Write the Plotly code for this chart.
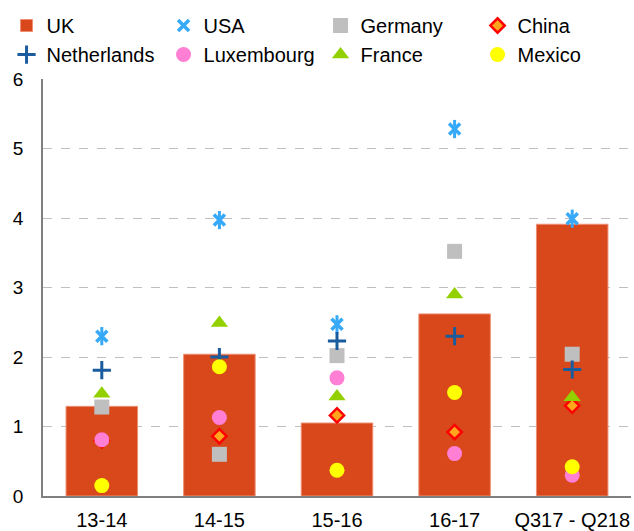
import plotly.graph_objects as go

categories = ["13-14", "14-15", "15-16", "16-17", "Q317 - Q218"]
uk = [1.29, 2.04, 1.05, 2.62, 3.91]
usa = [2.30, 3.97, 2.47, 5.28, 3.99]
germany = [1.28, 0.60, 2.02, 3.52, 2.04]
china = [0.80, 0.86, 1.16, 0.92, 1.30]
netherlands = [1.81, 2.00, 2.23, 2.30, 1.82]
luxembourg = [0.81, 1.13, 1.70, 0.61, 0.30]
france = [1.47, 2.49, 1.43, 2.90, 1.42]
mexico = [0.15, 1.86, 0.37, 1.49, 0.42]
y_ticks = [0, 1, 2, 3, 4, 5, 6]

FONT = "Liberation Sans, Arial, sans-serif"

fig = go.Figure()
fig.add_trace(go.Bar(
    x=categories, y=uk, name="UK",
    marker=dict(color="#D8481B", line=dict(color="#EE8F73", width=1)),
))

def add_pts(name, vals, symbol, color, size, line_color=None, line_width=0,
            showlegend=True, group=None):
    fig.add_trace(go.Scatter(
        x=categories, y=vals, name=name, mode="markers",
        showlegend=showlegend, legendgroup=group or name,
        marker=dict(symbol=symbol, color=color, size=size,
                    line=dict(color=line_color if line_color else color, width=line_width)),
    ))

add_pts("USA", usa, "x-thin-open", "#36A9F8", 11, "#36A9F8", 3.5)
add_pts("USA", usa, "line-ns-open", "#36A9F8", 13, "#36A9F8", 3, showlegend=False, group="USA")
add_pts("Germany", germany, "square", "#BFBFBF", 15)
add_pts("China", china, "diamond", "#FFA61C", 11, "#FF0000", 2.5)
add_pts("Netherlands", netherlands, "cross-thin-open", "#1A5C9E", 13, "#1A5C9E", 3)
add_pts("Luxembourg", luxembourg, "circle", "#FF7FD4", 15)
add_pts("France", france, "triangle-up", "#92D000", 15)
add_pts("Mexico", mexico, "circle", "#FFFF00", 15)

fig.update_layout(
    width=634, height=531,
    margin=dict(l=43, r=3, t=79, b=35, pad=0, autoexpand=False),
    paper_bgcolor="white", plot_bgcolor="white",
    bargap=0.392,
    font=dict(family=FONT, size=19, color="black"),
    showlegend=True,
    legend=dict(
        orientation="h", x=-0.062, xanchor="left", y=1.175, yanchor="top",
        entrywidth=112, entrywidthmode="pixels",
        font=dict(family=FONT, size=20, color="black"),
        bgcolor="rgba(0,0,0,0)", itemsizing="trace",
        tracegroupgap=0,
    ),
    xaxis=dict(
        type="category", showgrid=False, showline=True, linecolor="#7F7F7F", linewidth=1.5,
        ticks="", tickfont=dict(size=20), ticklabelstandoff=5,
    ),
    yaxis=dict(
        range=[0, 6], tickvals=y_ticks, showgrid=True, gridcolor="#BFBFBF", griddash="dash",
        gridwidth=1, showline=True, linecolor="#7F7F7F", linewidth=1.5, zeroline=False,
        ticks="", tickfont=dict(size=19), ticklabelstandoff=14,
    ),
)

fig.write_html(
    "out.html",
    config={"displayModeBar": False},
    post_script="document.body.style.margin='0';document.body.style.overflow='hidden';",
)
